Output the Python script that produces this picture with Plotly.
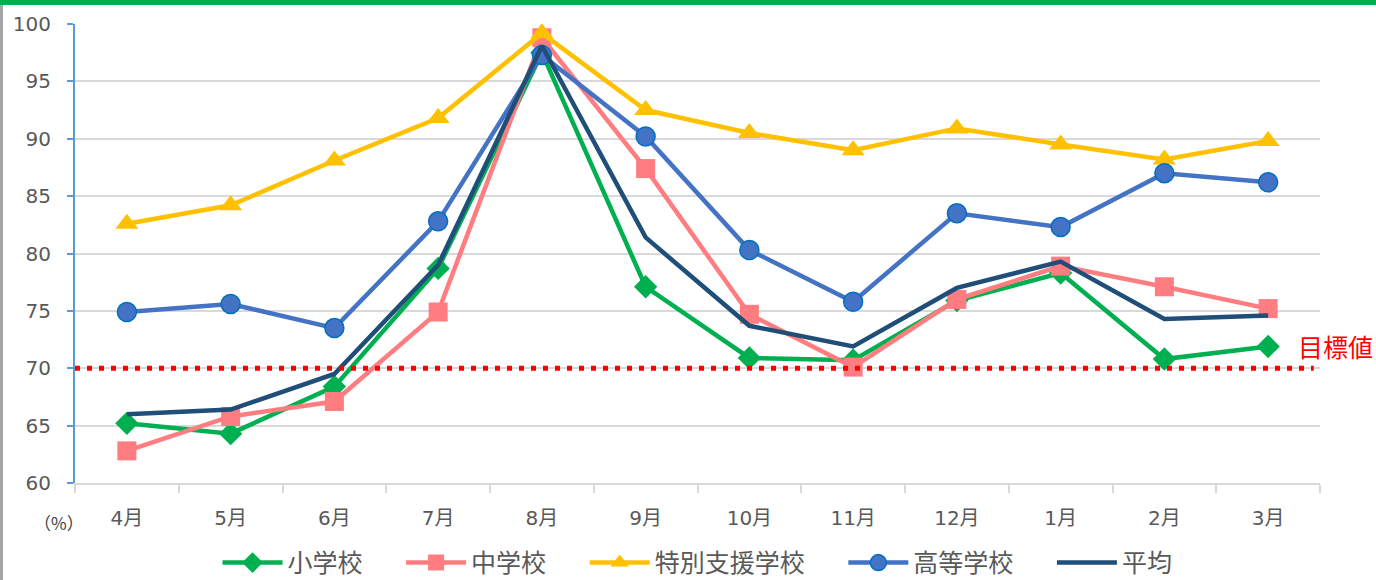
import plotly.graph_objects as go

months = ["4月", "5月", "6月", "7月", "8月", "9月", "10月", "11月", "12月", "1月", "2月", "3月"]
elementary = [65.2, 64.3, 68.4, 78.7, 97.5, 77.1, 70.9, 70.7, 75.9, 78.3, 70.8, 71.9]
junior_high = [62.8, 65.8, 67.1, 74.9, 98.8, 87.4, 74.7, 70.1, 76.0, 78.9, 77.1, 75.2]
special_support = [82.6, 84.2, 88.1, 91.8, 99.2, 92.5, 90.5, 89.0, 90.9, 89.5, 88.2, 89.8]
high_school = [74.9, 75.6, 73.5, 82.8, 97.3, 90.2, 80.3, 75.8, 83.5, 82.3, 87.0, 86.2]
average = [66.0, 66.4, 69.5, 79.0, 98.1, 81.4, 73.7, 71.9, 77.0, 79.3, 74.3, 74.6]
target = 70
y_ticks = [60, 65, 70, 75, 80, 85, 90, 95, 100]

FONT = "DejaVu Sans, Noto Sans CJK JP"
CJK = "Noto Sans CJK JP"
GRAY = "#595959"
PAD = "\u00a0" * 6

fig = go.Figure()
series = [
    ("小学校", elementary, "#00B050", dict(symbol="diamond", size=18, color="#00B050")),
    ("中学校", junior_high, "#FF7C80", dict(symbol="square", size=19, color="#FF7C80")),
    ("特別支援学校", special_support, "#FFC000", dict(symbol="triangle-up", size=20, color="#FFC000")),
    ("高等学校", high_school, "#4472C4", dict(symbol="circle", size=19, color="#4472C4",
                                          line=dict(color="#0070C0", width=1.5))),
    ("平均", average, "#1F4E79", None),
]
for name, vals, color, marker in series:
    if marker is None:
        fig.add_trace(go.Scatter(x=months, y=vals, name=name, mode="lines",
                                 line=dict(color=color, width=4.5)))
    else:
        fig.add_trace(go.Scatter(x=months, y=vals, name=name + PAD, mode="lines+markers",
                                 line=dict(color=color, width=4.5), marker=marker))

# target line
fig.add_shape(type="line", xref="paper", yref="y", x0=0, x1=0.995, y0=target, y1=target,
              line=dict(color="#FF0000", width=5, dash="5px,7px"), layer="above")
fig.add_annotation(text="目標値", xref="paper", yref="y", x=0.981, y=target, xanchor="left",
                   yanchor="bottom", yshift=2, showarrow=False,
                   font=dict(family=CJK, size=25, color="#FF0000"))
fig.add_annotation(text="（%）", xref="paper", yref="paper", x=-0.013, y=-0.087,
                   xanchor="center", yanchor="middle", showarrow=False,
                   font=dict(family=CJK, size=17, color="#404040"))

# decorations: green top bar, left gray border
fig.add_shape(type="rect", xref="paper", yref="paper", x0=-0.07, x1=1.06,
              y0=(483 - 0) / 459, y1=(483 - 5) / 459,
              fillcolor="#00B050", line=dict(width=0), layer="above")
fig.add_shape(type="rect", xref="paper", yref="paper", x0=-75 / 1245, x1=-72 / 1245,
              y0=(483 - 580) / 459, y1=(483 - 5) / 459,
              fillcolor="#A6A6A6", line=dict(width=0), layer="above")

fig.update_layout(
    width=1376, height=580,
    margin=dict(l=75, r=56, t=24, b=97, autoexpand=False),
    plot_bgcolor="white", paper_bgcolor="white",
    font=dict(family=FONT, color=GRAY),
    showlegend=True,
    legend=dict(orientation="h", x=0.5, xanchor="center", y=-0.174, yanchor="middle",
                font=dict(family=CJK, size=25, color=GRAY), itemwidth=60,
                tracegroupgap=0, traceorder="normal"),
    xaxis=dict(type="category", range=[-0.5, 11.5], showgrid=False, automargin=False,
               showline=True, linecolor="#D9D9D9", linewidth=1.5,
               ticks="outside", tickson="boundaries", ticklen=8, tickcolor="#D9D9D9",
               tickwidth=1.5,
               tickfont=dict(family=FONT, size=20, color=GRAY), ticklabelstandoff=16),
    yaxis=dict(range=[60, 100], tickvals=y_ticks, showgrid=True, gridcolor="#D9D9D9",
               gridwidth=1.5, zeroline=False, automargin=False,
               showline=True, linecolor="#5B9BD5", linewidth=2,
               ticks="outside", ticklen=6, tickcolor="#5B9BD5", tickwidth=2,
               tickfont=dict(family=FONT, size=20, color=GRAY), ticklabelstandoff=12),
)

fig.write_html("out.html", config={"displayModeBar": False},
               post_script="document.body.style.margin='0';document.body.style.overflow='hidden';")
